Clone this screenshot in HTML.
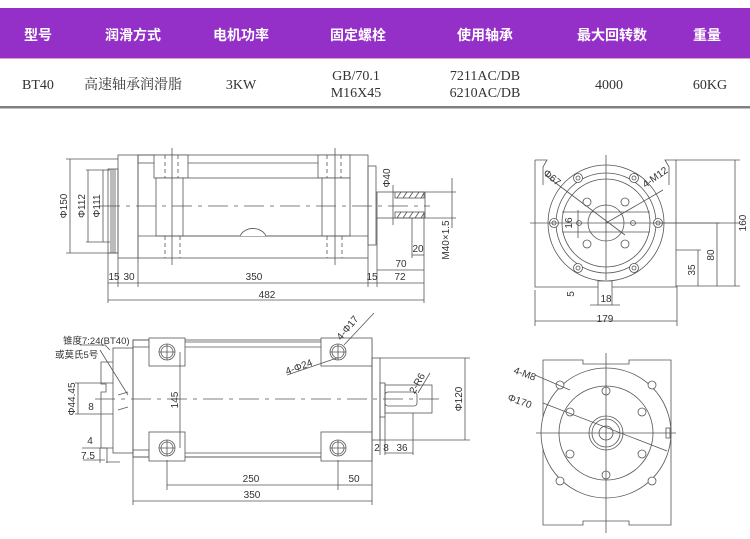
<!DOCTYPE html>
<html><head><meta charset="utf-8"><style>
html,body{margin:0;padding:0;background:#fff;width:750px;height:539px;overflow:hidden}
svg{display:block}
.h{font-family:"Liberation Sans","Noto Sans CJK SC",sans-serif;font-weight:bold;font-size:14px;fill:#fff}
.r{font-family:"Liberation Serif","Noto Serif CJK SC",serif;font-size:14px;fill:#333}
.d{font-family:"Liberation Sans","Noto Sans CJK SC",sans-serif;font-size:10px;fill:#333}
</style></head><body>
<svg width="750" height="539" viewBox="0 0 750 539" xmlns="http://www.w3.org/2000/svg">
<rect x="0" y="8" width="750" height="50" fill="#9430c8"/>
<line x1="0" y1="58.5" x2="750" y2="58.5" stroke="#e0a0c0" stroke-width="1"/>
<g class="h" text-anchor="middle">
<text x="38" y="40">型号</text><text x="133" y="40">润滑方式</text><text x="241" y="40">电机功率</text>
<text x="358" y="40">固定螺栓</text><text x="485" y="40">使用轴承</text><text x="612" y="40">最大回转数</text><text x="707" y="40">重量</text>
</g>
<g class="r" text-anchor="middle">
<text x="38" y="89">BT40</text><text x="133" y="89">高速轴承润滑脂</text><text x="241" y="89">3KW</text>
<text x="356" y="80">GB/70.1</text><text x="356" y="97">M16X45</text>
<text x="485" y="80">7211AC/DB</text><text x="485" y="97">6210AC/DB</text>
<text x="609" y="89">4000</text><text x="710" y="89">60KG</text>
</g>
<rect x="0" y="106" width="750" height="2.5" fill="#808080"/>

<g stroke="#555" stroke-width="0.8" fill="none">
<!-- View 1 -->
<rect x="108" y="169" width="10" height="84"/>
<line x1="111" y1="169" x2="111" y2="253"/><line x1="113" y1="169" x2="113" y2="253"/><line x1="115" y1="169" x2="115" y2="253"/>
<rect x="118" y="155" width="20" height="103"/>
<rect x="138" y="155" width="230" height="103"/>
<rect x="138" y="155" width="17" height="8"/>
<rect x="154" y="155" width="34" height="23" fill="#fff"/>
<rect x="318" y="155" width="32" height="23" fill="#fff"/>
<line x1="188" y1="163" x2="318" y2="163"/>
<rect x="156" y="178" width="194" height="58" fill="#fff"/>
<line x1="183" y1="178" x2="183" y2="236"/><line x1="322" y1="178" x2="322" y2="236"/>
<line x1="138" y1="236" x2="368" y2="236"/>
<path d="M240 236 A14 12 0 0 1 266 236" fill="#fff"/>
<g stroke-dasharray="4 3"><line x1="165" y1="155" x2="165" y2="178"/><line x1="178" y1="155" x2="178" y2="178"/><line x1="327" y1="155" x2="327" y2="178"/><line x1="341" y1="155" x2="341" y2="178"/>
<line x1="165" y1="236" x2="165" y2="258"/><line x1="180" y1="236" x2="180" y2="258"/><line x1="327" y1="236" x2="327" y2="258"/><line x1="342" y1="236" x2="342" y2="258"/></g>
<line x1="172" y1="148" x2="172" y2="265"/><line x1="335" y1="148" x2="335" y2="265"/>
<rect x="368" y="166" width="8" height="79"/>
<rect x="377" y="192" width="48" height="26"/>
<rect x="395" y="192" width="29" height="6"/><rect x="395" y="212" width="29" height="6"/>
<path d="M397 198l4-6M403 198l4-6M409 198l4-6M415 198l4-6M421 198l3-5M397 218l4-6M403 218l4-6M409 218l4-6M415 218l4-6M421 218l3-5"/>
<line x1="100" y1="206" x2="430" y2="206" stroke-dasharray="20 6 4 6"/>
<line x1="70" y1="159" x2="70" y2="253"/><line x1="66" y1="159" x2="118" y2="159"/><line x1="66" y1="253" x2="118" y2="253"/>
<line x1="88" y1="170" x2="88" y2="242"/><line x1="86" y1="170" x2="110" y2="170"/><line x1="86" y1="242" x2="110" y2="242"/>
<line x1="103" y1="170" x2="103" y2="242"/>
<line x1="108" y1="253" x2="108" y2="303"/><line x1="118" y1="258" x2="118" y2="287"/><line x1="138" y1="258" x2="138" y2="287"/>
<line x1="368" y1="258" x2="368" y2="287"/><line x1="377" y1="218" x2="377" y2="287"/><line x1="424" y1="218" x2="424" y2="303"/>
<line x1="108" y1="283" x2="424" y2="283"/><line x1="377" y1="270" x2="424" y2="270"/>
<line x1="412" y1="218" x2="412" y2="258"/><line x1="412" y1="255" x2="424" y2="255"/>
<line x1="108" y1="300" x2="424" y2="300"/>
<line x1="425" y1="192" x2="456" y2="192"/><line x1="425" y1="218" x2="456" y2="218"/><line x1="452" y1="178" x2="452" y2="228"/>
<line x1="393" y1="185" x2="393" y2="225"/>
</g>
<g class="d" text-anchor="middle">
<text transform="translate(67 206) rotate(-90)">Φ150</text>
<text transform="translate(85 206) rotate(-90)">Φ112</text>
<text transform="translate(100 206) rotate(-90)">Φ111</text>
<text transform="translate(390 178) rotate(-90)">Φ40</text>
<text transform="translate(449 240) rotate(-90)">M40×1.5</text>
<text x="114" y="280">15</text><text x="129" y="280">30</text><text x="254" y="280">350</text><text x="372" y="280">15</text><text x="400" y="280">72</text>
<text x="401" y="267">70</text><text x="418" y="252">20</text><text x="267" y="298">482</text>
</g>

<!-- View 2 -->
<g stroke="#555" stroke-width="0.8" fill="none">
<rect x="133" y="340" width="239" height="117"/>
<rect x="133" y="340" width="16" height="7"/><rect x="133" y="450" width="16" height="7"/>
<line x1="185" y1="342" x2="321" y2="342"/><line x1="185" y1="347" x2="321" y2="347"/>
<line x1="185" y1="453" x2="321" y2="453"/><line x1="185" y1="457" x2="321" y2="457"/>
<rect x="149" y="338" width="36" height="28" fill="#fff"/><rect x="321" y="338" width="51" height="28" fill="#fff"/>
<rect x="149" y="432" width="36" height="29" fill="#fff"/><rect x="321" y="432" width="51" height="29" fill="#fff"/>
<circle cx="167" cy="352" r="8"/><circle cx="167" cy="352" r="6"/><circle cx="338" cy="352" r="8"/><circle cx="338" cy="352" r="6"/>
<circle cx="167" cy="448" r="8"/><circle cx="167" cy="448" r="6"/><circle cx="338" cy="448" r="8"/><circle cx="338" cy="448" r="6"/>
<path d="M159 352h16M167 344v16M330 352h16M338 344v16M159 448h16M167 440v16M330 448h16M338 440v16"/>
<rect x="372" y="358" width="8" height="82"/>
<rect x="113" y="348" width="20" height="105"/>
<path d="M113 362h-12v22h5v8h-5v56h12"/>
<path d="M100 350l28 45M118 395l10-3M118 410l10-3"/>
<rect x="380" y="383" width="5" height="34"/>
<rect x="385" y="385" width="47" height="28"/>
<rect x="385" y="392" width="32" height="14" rx="3"/>
<line x1="95" y1="399" x2="440" y2="399" stroke-dasharray="20 6 4 6"/>
<line x1="180" y1="352" x2="180" y2="448"/>
<line x1="167" y1="460" x2="167" y2="490"/><line x1="338" y1="460" x2="338" y2="490"/><line x1="372" y1="440" x2="372" y2="505"/><line x1="133" y1="457" x2="133" y2="505"/>
<line x1="167" y1="485" x2="372" y2="485"/><line x1="133" y1="501" x2="372" y2="501"/>
<line x1="380" y1="440" x2="470" y2="440"/><line x1="380" y1="358" x2="470" y2="358"/><line x1="465" y1="358" x2="465" y2="440"/>
<line x1="380" y1="417" x2="380" y2="455"/><line x1="385" y1="417" x2="385" y2="455"/><line x1="413" y1="413" x2="413" y2="455"/><line x1="385" y1="453" x2="413" y2="453"/>
<path d="M344 345l30-32M287 375l50-17M418 393l12-20"/>
<path d="M75 383h38M75 414h38M78 383v31M82 448h25M83 460h22M100 448v15M107 448v15M106 462h14"/>
<path d="M80 345h25l5 5"/>
</g>
<g class="d" text-anchor="middle">
<text x="63" y="344" text-anchor="start" font-size="9.5">锥度7:24(BT40)</text>
<text x="55" y="358" text-anchor="start" font-size="9.5">或莫氏5号</text>
<text transform="translate(75 399) rotate(-90)">Φ44.45</text>
<text x="91" y="410">8</text><text x="90" y="444">4</text><text x="88" y="459">7.5</text>
<text transform="translate(178 400) rotate(-90)">145</text>
<text transform="translate(462 399) rotate(-90)">Φ120</text>
<text x="251" y="482">250</text><text x="354" y="482">50</text><text x="252" y="498">350</text>
<text x="377" y="451">2</text><text x="386" y="451">8</text><text x="402" y="451">36</text>
<text transform="translate(300 370) rotate(-20)">4-Φ24</text>
<text transform="translate(350 330) rotate(-50)">4-Φ17</text>
<text transform="translate(420 385) rotate(-60)">2-R6</text>
</g>

<!-- View 3 -->
<g stroke="#555" stroke-width="0.8" fill="none">
<path d="M535 160h12l-4 7v18M677 160h-12l4 7v18"/>
<path d="M535 160v127h141v-127"/>
<circle cx="606" cy="223" r="58" fill="#fff"/><circle cx="606" cy="223" r="50"/><circle cx="606" cy="223" r="44"/>
<circle cx="606" cy="223" r="18"/>
<path d="M562 212h88M562 232h88"/>
<g fill="#fff"><circle cx="578" cy="178" r="4.5"/><circle cx="634" cy="178" r="4.5"/><circle cx="554" cy="223" r="4.5"/><circle cx="658" cy="223" r="4.5"/><circle cx="578" cy="268" r="4.5"/><circle cx="634" cy="268" r="4.5"/>
<circle cx="587" cy="202" r="4"/><circle cx="625" cy="202" r="4"/><circle cx="587" cy="244" r="4"/><circle cx="625" cy="244" r="4"/><circle cx="579" cy="223" r="2.5"/><circle cx="633" cy="223" r="2.5"/></g>
<circle cx="578" cy="178" r="2"/><circle cx="634" cy="178" r="2"/><circle cx="554" cy="223" r="2"/><circle cx="658" cy="223" r="2"/><circle cx="578" cy="268" r="2"/><circle cx="634" cy="268" r="2"/>
<path d="M606 155v125M530 223h210M545 175l80 60M606 223l57-33"/>
<rect x="598" y="281" width="14" height="24" fill="#fff"/>
<path d="M598 305h-8M612 305h8M535 290v36M677 286v40M535 321h142M676 286h64M676 160h64M735 160v126M660 223h60M717 223v63M676 250h25M698 250v36M578 210v28"/>
</g>
<g class="d" text-anchor="middle">
<text transform="translate(550 180) rotate(40)">Φ67</text>
<text transform="translate(657 180) rotate(-35)">4-M12</text>
<text transform="translate(572 223) rotate(-90)">16</text>
<text transform="translate(746 223) rotate(-90)">160</text>
<text transform="translate(714 255) rotate(-90)">80</text>
<text transform="translate(695 270) rotate(-90)">35</text>
<text transform="translate(574 294) rotate(-90)">5</text>
<text x="606" y="302">18</text><text x="605" y="322">179</text>
</g>

<!-- View 4 -->
<g stroke="#555" stroke-width="0.8" fill="none">
<path d="M543 360h40v4h46v-4h42v165h-42v-4h-46v4h-40z"/>
<circle cx="606" cy="433" r="65" fill="#fff"/>
<circle cx="606" cy="433" r="47"/><circle cx="606" cy="433" r="17"/><circle cx="606" cy="433" r="14"/><circle cx="606" cy="433" r="7"/>
<g fill="#fff"><circle cx="560" cy="385" r="4"/><circle cx="652" cy="385" r="4"/><circle cx="560" cy="481" r="4"/><circle cx="652" cy="481" r="4"/>
<circle cx="606" cy="391" r="4"/><circle cx="606" cy="475" r="4"/><circle cx="570" cy="412" r="4"/><circle cx="642" cy="412" r="4"/><circle cx="570" cy="454" r="4"/><circle cx="642" cy="454" r="4"/></g>
<path d="M606 353v180M536 433h140M543 403l124 48M535 375l35 15"/>
<rect x="666" y="428" width="4" height="10"/>
</g>
<g class="d">
<text transform="translate(513 373) rotate(20)">4-M8</text>
<text transform="translate(507 400) rotate(20)">Φ170</text>
</g>
</svg>
</body></html>
